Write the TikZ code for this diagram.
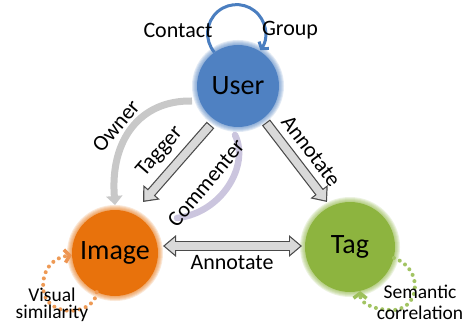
\documentclass[tikz,border=0pt]{standalone}
\usepackage{fontspec}
\setmainfont{Carlito}
\usetikzlibrary{arrows.meta,calc}
\definecolor{userblue}{HTML}{4F81C2}
\definecolor{imgorange}{HTML}{E8720C}
\definecolor{taggreen}{HTML}{8DB43F}
\definecolor{loopblue}{HTML}{4A7EC0}
\definecolor{arrowedge}{HTML}{4A4A4A}
\definecolor{arrowfill}{HTML}{D9D9D9}
\definecolor{arcgray}{HTML}{C8C8C8}
\definecolor{arclav}{HTML}{CBC5DE}
\definecolor{dotorange}{HTML}{EE9A55}
\definecolor{dotgreen}{HTML}{A2C463}
\definecolor{headorange}{HTML}{EE9450}
\definecolor{headgreen}{HTML}{9DC05A}
\tikzset{
  FatO/.tip={Triangle[length=13pt,width=21pt]},
  FatI/.tip={Triangle[length=9.9pt,width=16pt]}
}
\begin{document}
\begin{tikzpicture}[x=1pt,y=1pt,
  ball/.style={circle, inner sep=0pt, font=\fontsize{28}{28}\selectfont, text=black},
  lbl/.style={font=\fontsize{22}{22}\selectfont, inner sep=0pt},
  slbl/.style={font=\fontsize{19.5}{20}\selectfont, inner sep=0pt},
  fatout/.style={line width=10pt, draw=arrowedge},
  fatin/.style={line width=7.6pt, draw=arrowfill},
  bentarc/.style={line width=7pt, draw=arcgray},
  dotloop/.style={line width=4pt, dash pattern=on 0pt off 6.5pt, line cap=round}
]
\useasboundingbox (0,0) rectangle (470,324);
\fill[white] (0,0) rectangle (470,324);

% soft glow behind the balls
\foreach \cx/\cy/\r/\c in {238/238/41/userblue,115/71/43/imgorange,350/77/45/taggreen}{
  \foreach \k in {1,...,5}{
    \fill[\c, opacity=0.16] (\cx,\cy) circle[radius=\r+\k];
  }
}

\node[ball, fill=userblue, minimum size=82pt] (user) at (238,238) {User};
\node[ball, fill=imgorange, minimum size=86pt] (image) at (115,71) {Image};
\node[ball, fill=taggreen, minimum size=90pt] (tag) at (350,77) {Tag};

% arrow end points
\coordinate (tgS) at (210.5,199);
\coordinate (tgE) at (143,122);
\coordinate (anS) at (266,201.5);
\coordinate (anE) at (327,122);
\coordinate (hzL) at (163,78);
\coordinate (hzR) at (302,78);
\coordinate (owS) at (192,223);
\coordinate (owE) at (115,119);
\coordinate (cmS) at (235,189);
\coordinate (cmE) at (177,106);

% Owner arc
\draw[bentarc, -{Triangle[length=9pt,width=16pt]}] (owS) .. controls (140,224) and (110,184) .. (owE);
% Commenter arc
\draw[bentarc, draw=arclav, line width=6.5pt, line cap=round] (cmS) .. controls (250,159) and (222,111) .. (cmE);

% Tagger arrow
\draw[fatout, -FatO] (tgS) -- (tgE);
\draw[fatin, -FatI, shorten >=1.9pt, shorten <=1.2pt] (tgS) -- (tgE);
% Annotate user->tag
\draw[fatout, -FatO] (anS) -- (anE);
\draw[fatin, -FatI, shorten >=1.9pt, shorten <=1.2pt] (anS) -- (anE);
% Annotate image<->tag
\draw[fatout, FatO-FatO] (hzL) -- (hzR);
\draw[fatin, FatI-FatI, shorten >=1.9pt, shorten <=1.9pt] (hzL) -- (hzR);

% User self loop
\draw[line width=3pt, loopblue, -{Straight Barb[length=4.5pt,width=12pt]}] (user.125) arc[start angle=220,end angle=-35,radius=29];

% Image self loop
\draw[dotloop, dotorange, -{Straight Barb[length=5pt,width=13pt,line width=3.5pt,color=headorange]}]
  (image.245) .. controls (95,10) and (52,5) .. (44,30) .. controls (40,50) and (50,66) .. (image.183);

% Tag self loop
\draw[dotloop, dotgreen, -{Straight Barb[length=5pt,width=13pt,line width=3.5pt,color=headgreen]}]
  (tag.-14) .. controls (425,55) and (420,12) .. (390,14) .. controls (370,15) and (360,22) .. (tag.-77);

% labels
\node[lbl] (tContact) at (178,294) {Contact};
\node[lbl] (tGroup) at (290,294) {Group};
\node[lbl, rotate=50] (tOwner) at (116,198) {Owner};
\node[lbl, rotate=49] (tTagger) at (160,172) {Tagger};
\node[lbl, rotate=50] (tComm) at (206,141) {Commenter};
\node[lbl, rotate=-53] (tAnn1) at (311,173) {Annotate};
\node[lbl] (tAnn2) at (232,61) {Annotate};
\node[slbl] (tVis) at (52,29) {Visual};
\node[slbl] (tSim) at (52,11) {similarity};
\node[slbl] (tSem) at (420,32) {Semantic};
\node[slbl] (tCor) at (420,11) {correlation};
\end{tikzpicture}
\end{document}
